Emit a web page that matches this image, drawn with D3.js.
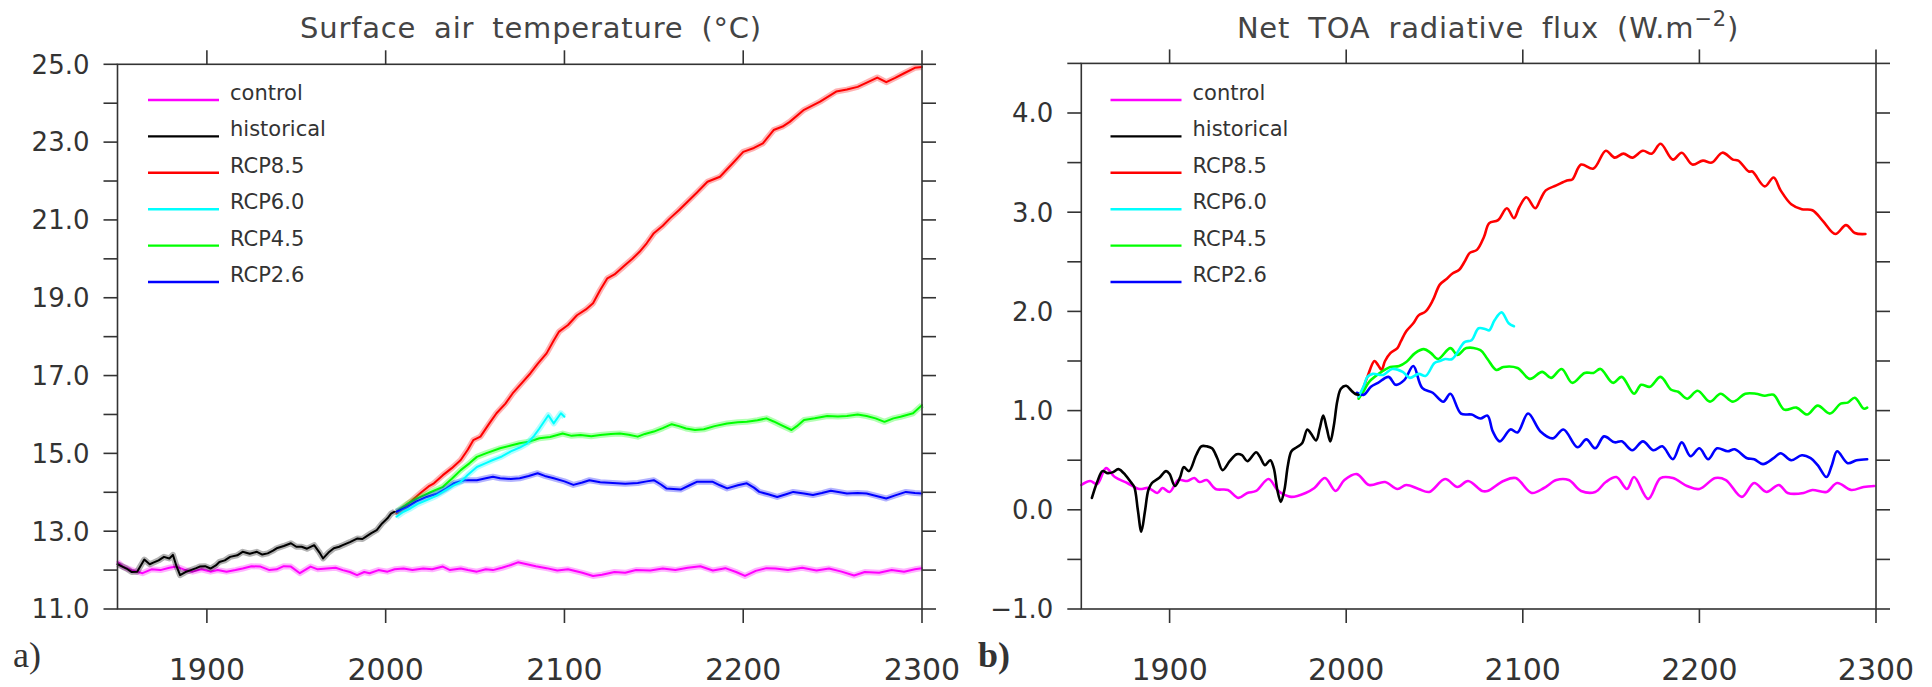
<!DOCTYPE html>
<html>
<head>
<meta charset="utf-8">
<script src="https://cdn.jsdelivr.net/npm/d3@7"></script>
<style>
  html, body { margin: 0; padding: 0; background: #fff; }
  svg { display: block; }
  text { font-family: "DejaVu Sans", sans-serif; fill: #333; }
</style>
</head>
<body>
<div id="chart"></div>
<script>
// Two panels: surface air temperature and net TOA flux, control / historical / RCP runs.

const YEARS = [1850, 2300];
const X_TICKS = [1900, 2000, 2100, 2200, 2300];
const SCENARIOS = ["control", "historical", "RCP8.5", "RCP6.0", "RCP4.5", "RCP2.6"];
const COLORS = {
  "control": "#ff00ff", "historical": "#000000", "RCP8.5": "#ff0000",
  "RCP6.0": "#00ffff", "RCP4.5": "#00ff00", "RCP2.6": "#0000ff"
};

// ---- panel a: surface air temperature (°C), [year, value] ----
const tasYTicks = [11, 12, 13, 14, 15, 16, 17, 18, 19, 20, 21, 22, 23, 24, 25];
const tasYLabels = [11, 13, 15, 17, 19, 21, 23, 25];

const tasControl = [[1850,12.21],[1853,12.09],[1858,12.0],[1864,11.92],[1869,12.02],[1874,12.0],[1879,12.06],[1883,12.09],[1888,12.0],[1892,11.96],[1897,12.02],[1902,11.96],[1906,12.0],[1911,11.96],[1916,12.0],[1920,12.04],[1925,12.1],[1930,12.09],[1935,12.0],[1939,12.02],[1943,12.1],[1947,12.09],[1952,11.92],[1958,12.09],[1962,12.02],[1967,12.04],[1972,12.06],[1976,12.0],[1980,11.95],[1984,11.87],[1988,11.95],[1991,11.92],[1996,12.0],[2001,11.96],[2005,12.02],[2010,12.04],[2015,12.0],[2021,12.04],[2026,12.02],[2032,12.09],[2036,12.0],[2042,12.04],[2046,12.0],[2051,11.96],[2056,12.02],[2060,12.0],[2065,12.06],[2070,12.13],[2074,12.2],[2079,12.15],[2084,12.1],[2090,12.05],[2096,11.99],[2102,12.02],[2110,11.93],[2116,11.85],[2121,11.88],[2128,11.95],[2134,11.93],[2140,12.0],[2148,11.99],[2155,12.04],[2162,12.0],[2169,12.06],[2176,12.1],[2183,11.99],[2190,12.05],[2196,11.95],[2201,11.85],[2207,11.98],[2213,12.05],[2218,12.04],[2225,12.0],[2233,12.06],[2241,11.99],[2248,12.04],[2255,11.96],[2262,11.86],[2268,11.95],[2276,11.93],[2283,12.0],[2290,11.96],[2296,12.02],[2300,12.05]];
const tasHistorical = [[1850,12.15],[1851,12.13],[1855,12.04],[1858,11.95],[1861,11.96],[1865,12.27],[1868,12.15],[1870,12.19],[1873,12.25],[1876,12.34],[1879,12.3],[1881,12.39],[1883,12.1],[1885,11.87],[1888,11.95],[1891,12.0],[1894,12.05],[1896,12.09],[1899,12.1],[1902,12.04],[1905,12.12],[1907,12.21],[1910,12.25],[1913,12.34],[1917,12.38],[1920,12.47],[1924,12.42],[1928,12.47],[1931,12.4],[1934,12.43],[1937,12.5],[1939,12.56],[1943,12.62],[1947,12.69],[1950,12.6],[1953,12.6],[1956,12.55],[1960,12.64],[1963,12.45],[1965,12.3],[1968,12.45],[1971,12.56],[1974,12.6],[1976,12.64],[1980,12.72],[1984,12.81],[1987,12.8],[1989,12.86],[1992,12.95],[1995,13.03],[1998,13.2],[2001,13.33],[2003,13.45],[2005,13.5]];
const tasRcp85 = [[2006,13.45],[2010,13.6],[2015,13.8],[2020,14.0],[2024,14.15],[2027,14.23],[2032,14.44],[2037,14.62],[2042,14.83],[2046,15.1],[2049,15.34],[2053,15.43],[2058,15.77],[2062,16.03],[2067,16.28],[2071,16.54],[2076,16.8],[2081,17.06],[2085,17.3],[2090,17.57],[2094,17.9],[2097,18.13],[2102,18.3],[2107,18.55],[2112,18.7],[2116,18.86],[2120,19.2],[2124,19.5],[2128,19.6],[2133,19.8],[2138,20.0],[2142,20.18],[2146,20.4],[2150,20.66],[2155,20.85],[2159,21.04],[2164,21.25],[2168,21.43],[2174,21.7],[2180,21.98],[2187,22.11],[2194,22.45],[2200,22.75],[2206,22.85],[2211,22.97],[2217,23.31],[2222,23.4],[2226,23.52],[2234,23.83],[2243,24.04],[2252,24.3],[2258,24.35],[2264,24.42],[2270,24.55],[2275,24.66],[2280,24.54],[2285,24.65],[2290,24.77],[2296,24.91],[2300,24.93]];
const tasRcp60 = [[2006,13.37],[2010,13.5],[2014,13.59],[2018,13.7],[2023,13.8],[2028,13.9],[2032,14.01],[2037,14.15],[2042,14.27],[2046,14.45],[2051,14.65],[2056,14.75],[2060,14.83],[2065,14.92],[2070,15.05],[2075,15.15],[2079,15.25],[2083,15.45],[2086,15.64],[2091,15.98],[2094,15.77],[2098,16.03],[2100,15.94]];
const tasRcp45 = [[2006,13.5],[2012,13.7],[2018,13.85],[2025,14.0],[2032,14.14],[2037,14.35],[2042,14.57],[2047,14.75],[2051,14.91],[2056,15.0],[2064,15.13],[2070,15.2],[2075,15.26],[2080,15.3],[2086,15.39],[2092,15.42],[2099,15.51],[2104,15.45],[2109,15.47],[2115,15.44],[2120,15.47],[2126,15.5],[2131,15.51],[2136,15.48],[2141,15.43],[2145,15.5],[2150,15.56],[2155,15.65],[2160,15.75],[2164,15.7],[2168,15.64],[2173,15.6],[2178,15.62],[2184,15.7],[2191,15.77],[2197,15.8],[2202,15.81],[2208,15.85],[2213,15.9],[2217,15.82],[2221,15.73],[2227,15.6],[2230,15.7],[2234,15.86],[2240,15.9],[2247,15.96],[2253,15.95],[2258,15.96],[2264,16.0],[2269,15.96],[2274,15.9],[2279,15.81],[2284,15.9],[2288,15.94],[2295,16.03],[2300,16.24]];
const tasRcp26 = [[2006,13.5],[2012,13.62],[2017,13.76],[2023,13.88],[2029,13.97],[2034,14.1],[2038,14.23],[2044,14.31],[2051,14.31],[2056,14.36],[2060,14.4],[2064,14.36],[2070,14.34],[2075,14.36],[2080,14.42],[2085,14.49],[2089,14.42],[2094,14.36],[2100,14.28],[2105,14.19],[2110,14.25],[2114,14.31],[2120,14.26],[2127,14.24],[2134,14.22],[2141,14.24],[2146,14.28],[2150,14.31],[2154,14.2],[2157,14.1],[2165,14.07],[2170,14.18],[2174,14.27],[2183,14.27],[2187,14.18],[2191,14.1],[2197,14.18],[2202,14.23],[2206,14.12],[2209,14.01],[2214,13.95],[2219,13.88],[2224,13.95],[2228,14.01],[2234,13.97],[2239,13.93],[2244,13.98],[2249,14.04],[2254,14.0],[2258,13.97],[2264,13.98],[2269,13.97],[2275,13.9],[2280,13.84],[2285,13.92],[2291,14.01],[2296,13.98],[2300,13.97]];

// ---- panel b: net TOA radiative flux (W m-2), [year, value] ----
const rtYTicks = [-1, -0.5, 0, 0.5, 1, 1.5, 2, 2.5, 3, 3.5, 4, 4.5];
const rtYLabels = [-1, 0, 1, 2, 3, 4];

const rtControl = [[1850,0.25],[1855,0.29],[1859,0.26],[1864,0.42],[1869,0.33],[1876,0.27],[1883,0.21],[1888,0.22],[1893,0.17],[1896,0.22],[1900,0.18],[1905,0.3],[1910,0.29],[1914,0.32],[1917,0.28],[1921,0.3],[1926,0.21],[1933,0.2],[1939,0.12],[1944,0.17],[1949,0.19],[1956,0.31],[1961,0.2],[1964,0.16],[1969,0.13],[1977,0.17],[1982,0.22],[1988,0.32],[1994,0.19],[1999,0.3],[2006,0.36],[2013,0.25],[2022,0.28],[2029,0.21],[2034,0.25],[2041,0.21],[2047,0.18],[2056,0.31],[2063,0.23],[2069,0.29],[2077,0.19],[2080,0.19],[2089,0.29],[2096,0.32],[2105,0.17],[2112,0.22],[2119,0.3],[2126,0.3],[2133,0.19],[2141,0.18],[2147,0.28],[2153,0.33],[2159,0.21],[2163,0.33],[2171,0.11],[2178,0.32],[2185,0.32],[2193,0.24],[2200,0.21],[2209,0.32],[2215,0.3],[2224,0.13],[2231,0.27],[2238,0.18],[2245,0.25],[2250,0.17],[2259,0.17],[2264,0.2],[2272,0.18],[2278,0.27],[2286,0.2],[2293,0.23],[2299,0.24]];
const rtHistorical = [[1856,0.12],[1859,0.28],[1862,0.39],[1865,0.37],[1868,0.38],[1871,0.41],[1875,0.35],[1878,0.28],[1880,0.23],[1882,0.0],[1884,-0.22],[1886,-0.02],[1888,0.2],[1890,0.27],[1894,0.32],[1898,0.39],[1900,0.36],[1903,0.24],[1906,0.33],[1908,0.43],[1911,0.39],[1915,0.55],[1918,0.64],[1921,0.64],[1924,0.62],[1927,0.52],[1930,0.4],[1934,0.49],[1938,0.56],[1941,0.55],[1944,0.49],[1949,0.58],[1951,0.54],[1954,0.45],[1957,0.5],[1959,0.42],[1961,0.2],[1963,0.08],[1965,0.2],[1967,0.45],[1969,0.59],[1972,0.63],[1975,0.67],[1978,0.81],[1980,0.77],[1983,0.7],[1985,0.82],[1987,0.95],[1989,0.82],[1991,0.69],[1993,0.85],[1995,1.1],[1997,1.22],[2000,1.25],[2003,1.2],[2005,1.17],[2007,1.16]];
const rtRcp85 = [[2007,1.14],[2009,1.2],[2012,1.34],[2016,1.5],[2018,1.46],[2020,1.41],[2022,1.5],[2025,1.58],[2029,1.63],[2031,1.7],[2034,1.8],[2038,1.88],[2041,1.96],[2045,2.0],[2049,2.11],[2053,2.27],[2057,2.33],[2060,2.38],[2064,2.42],[2067,2.5],[2070,2.59],[2074,2.62],[2078,2.75],[2081,2.89],[2086,2.92],[2091,3.04],[2095,2.94],[2098,3.05],[2102,3.15],[2107,3.04],[2110,3.13],[2113,3.22],[2119,3.27],[2125,3.32],[2128,3.33],[2133,3.48],[2140,3.44],[2147,3.62],[2152,3.55],[2157,3.59],[2162,3.55],[2168,3.62],[2173,3.59],[2178,3.69],[2185,3.53],[2190,3.6],[2196,3.48],[2202,3.52],[2207,3.5],[2213,3.6],[2219,3.53],[2222,3.52],[2228,3.41],[2230,3.41],[2237,3.26],[2242,3.35],[2246,3.22],[2252,3.08],[2258,3.03],[2264,3.02],[2270,2.91],[2277,2.78],[2283,2.87],[2288,2.79],[2294,2.78]];
const rtRcp60 = [[2007,1.14],[2010,1.25],[2012,1.34],[2015,1.37],[2021,1.36],[2026,1.42],[2032,1.39],[2036,1.33],[2041,1.37],[2045,1.35],[2050,1.48],[2053,1.5],[2056,1.52],[2060,1.52],[2067,1.69],[2071,1.71],[2075,1.83],[2079,1.82],[2081,1.81],[2084,1.91],[2088,1.99],[2092,1.88],[2095,1.85]];
const rtRcp45 = [[2007,1.12],[2010,1.2],[2013,1.29],[2020,1.39],[2025,1.44],[2030,1.45],[2034,1.49],[2039,1.58],[2044,1.62],[2048,1.58],[2052,1.52],[2059,1.63],[2063,1.56],[2068,1.63],[2076,1.61],[2080,1.52],[2085,1.41],[2089,1.44],[2097,1.43],[2104,1.32],[2111,1.39],[2116,1.33],[2122,1.42],[2128,1.28],[2135,1.38],[2140,1.38],[2144,1.42],[2151,1.28],[2156,1.34],[2163,1.17],[2167,1.26],[2172,1.24],[2178,1.34],[2184,1.21],[2188,1.19],[2193,1.12],[2199,1.2],[2206,1.09],[2212,1.17],[2219,1.09],[2226,1.17],[2232,1.17],[2237,1.15],[2242,1.16],[2248,1.01],[2255,1.03],[2261,0.96],[2267,1.05],[2274,0.97],[2280,1.07],[2284,1.08],[2288,1.13],[2293,1.02],[2295,1.03]];
const rtRcp26 = [[2006,1.18],[2010,1.16],[2014,1.24],[2018,1.28],[2024,1.34],[2028,1.26],[2033,1.31],[2038,1.45],[2043,1.23],[2049,1.18],[2055,1.09],[2059,1.17],[2065,0.97],[2071,0.96],[2076,0.92],[2080,0.95],[2083,0.79],[2087,0.69],[2093,0.81],[2097,0.78],[2103,0.97],[2110,0.79],[2117,0.72],[2123,0.81],[2131,0.63],[2136,0.71],[2141,0.62],[2146,0.74],[2152,0.68],[2156,0.69],[2162,0.6],[2168,0.69],[2174,0.6],[2179,0.64],[2185,0.51],[2190,0.68],[2195,0.54],[2200,0.62],[2205,0.51],[2210,0.62],[2216,0.59],[2220,0.61],[2227,0.52],[2231,0.51],[2236,0.46],[2242,0.52],[2246,0.57],[2252,0.5],[2258,0.55],[2263,0.52],[2267,0.45],[2272,0.33],[2275,0.45],[2278,0.59],[2284,0.47],[2289,0.5],[2295,0.51]];

const W = 1932, H = 687;
const svg = d3.select("#chart").append("svg").attr("width", W).attr("height", H);

function drawPanel(p) {
  const x = d3.scaleLinear().domain(YEARS).range([p.left, p.right]);
  const y = d3.scaleLinear().domain(p.yDomain).range([p.bottom, p.top]);
  const g = svg.append("g");
  const TICK = 14;

  // data (drawn first, frame on top)
  const line = d3.line().x(d => x(d[0])).y(d => y(d[1])).curve(p.curve);
  for (const s of p.series) {
    if (p.spread) {
      // soft band standing in for the ensemble members around the mean
      g.append("path").attr("d", line(s.data)).attr("fill", "none")
        .attr("stroke", COLORS[s.name]).attr("stroke-width", 6)
        .attr("stroke-opacity", 0.3).attr("stroke-linejoin", "round");
    }
    g.append("path").attr("d", line(s.data)).attr("fill", "none")
      .attr("stroke", COLORS[s.name]).attr("stroke-width", p.lineWidth)
      .attr("stroke-linejoin", "round").attr("stroke-linecap", "round");
  }

  // frame
  g.append("rect").attr("x", p.left).attr("y", p.top)
    .attr("width", p.right - p.left).attr("height", p.bottom - p.top)
    .attr("fill", "none").attr("stroke", "#333").attr("stroke-width", 1.6);

  // ticks, outward on all four sides
  const tk = g.append("g").attr("stroke", "#333").attr("stroke-width", 1.6);
  for (const v of p.yTicks) {
    tk.append("line").attr("x1", p.left - TICK).attr("x2", p.left).attr("y1", y(v)).attr("y2", y(v));
    tk.append("line").attr("x1", p.right).attr("x2", p.right + TICK).attr("y1", y(v)).attr("y2", y(v));
  }
  for (const v of X_TICKS) {
    tk.append("line").attr("x1", x(v)).attr("x2", x(v)).attr("y1", p.top - TICK).attr("y2", p.top);
    tk.append("line").attr("x1", x(v)).attr("x2", x(v)).attr("y1", p.bottom).attr("y2", p.bottom + TICK);
  }

  g.selectAll("text.ylab").data(p.yLabels).enter().append("text")
    .attr("class", "ylab")
    .attr("x", p.left - TICK - 14).attr("y", d => y(d)).attr("dy", "0.36em")
    .attr("text-anchor", "end").attr("font-size", 26)
    .text(d => (d < 0 ? "\u2212" : "") + Math.abs(d).toFixed(1));

  g.selectAll("text.xlab").data(X_TICKS).enter().append("text")
    .attr("class", "xlab")
    .attr("x", d => x(d)).attr("y", 680)
    .attr("text-anchor", "middle").attr("font-size", 30)
    .text(d => d);

  // legend
  SCENARIOS.forEach((name, i) => {
    const ly = 100 + i * 36.4;
    g.append("line").attr("x1", p.legendX).attr("x2", p.legendX + 71)
      .attr("y1", ly).attr("y2", ly)
      .attr("stroke", COLORS[name]).attr("stroke-width", 2.4);
    g.append("text").attr("x", p.legendX + 82).attr("y", ly)
      .attr("font-size", 21).text(name);
  });

  // panel letter
  g.append("text").attr("x", p.letterX).attr("y", 667)
    .style("font-family", "'Liberation Serif', serif")
    .attr("font-size", 36).attr("font-weight", p.letterBold ? "bold" : "normal")
    .text(p.letter);

  return g;
}

const ga = drawPanel({
  left: 117.5, right: 922, top: 64.3, bottom: 609,
  yDomain: [11, 25], yTicks: tasYTicks, yLabels: tasYLabels,
  curve: d3.curveLinear, spread: true, lineWidth: 2,
  legendX: 148, letter: "a)", letterX: 13, letterBold: false,
  series: [
    { name: "control", data: tasControl },
    { name: "RCP8.5", data: tasRcp85 },
    { name: "RCP4.5", data: tasRcp45 },
    { name: "RCP2.6", data: tasRcp26 },
    { name: "RCP6.0", data: tasRcp60 },
    { name: "historical", data: tasHistorical }
  ]
});
ga.append("text").attr("x", 531).attr("y", 38).attr("text-anchor", "middle")
  .attr("font-size", 29).attr("word-spacing", 8).attr("letter-spacing", 0.8)
  .style("fill", "#444")
  .text("Surface air temperature (\u00B0C)");

const gb = drawPanel({
  left: 1081.3, right: 1876, top: 63.4, bottom: 609,
  yDomain: [-1, 4.5], yTicks: rtYTicks, yLabels: rtYLabels,
  curve: d3.curveCatmullRom, spread: false, lineWidth: 2.6,
  legendX: 1110.5, letter: "b)", letterX: 978, letterBold: true,
  series: [
    { name: "control", data: rtControl },
    { name: "RCP8.5", data: rtRcp85 },
    { name: "RCP4.5", data: rtRcp45 },
    { name: "RCP2.6", data: rtRcp26 },
    { name: "RCP6.0", data: rtRcp60 },
    { name: "historical", data: rtHistorical }
  ]
});
const tb = gb.append("text").attr("x", 1488).attr("y", 38).attr("text-anchor", "middle")
  .attr("font-size", 29).attr("word-spacing", 8).attr("letter-spacing", 0.8)
  .style("fill", "#444");
tb.append("tspan").text("Net TOA radiative flux (W.m");
tb.append("tspan").attr("dy", -12).attr("font-size", 21).text("\u22122");
tb.append("tspan").attr("dy", 12).text(")");
</script>
</body>
</html>
